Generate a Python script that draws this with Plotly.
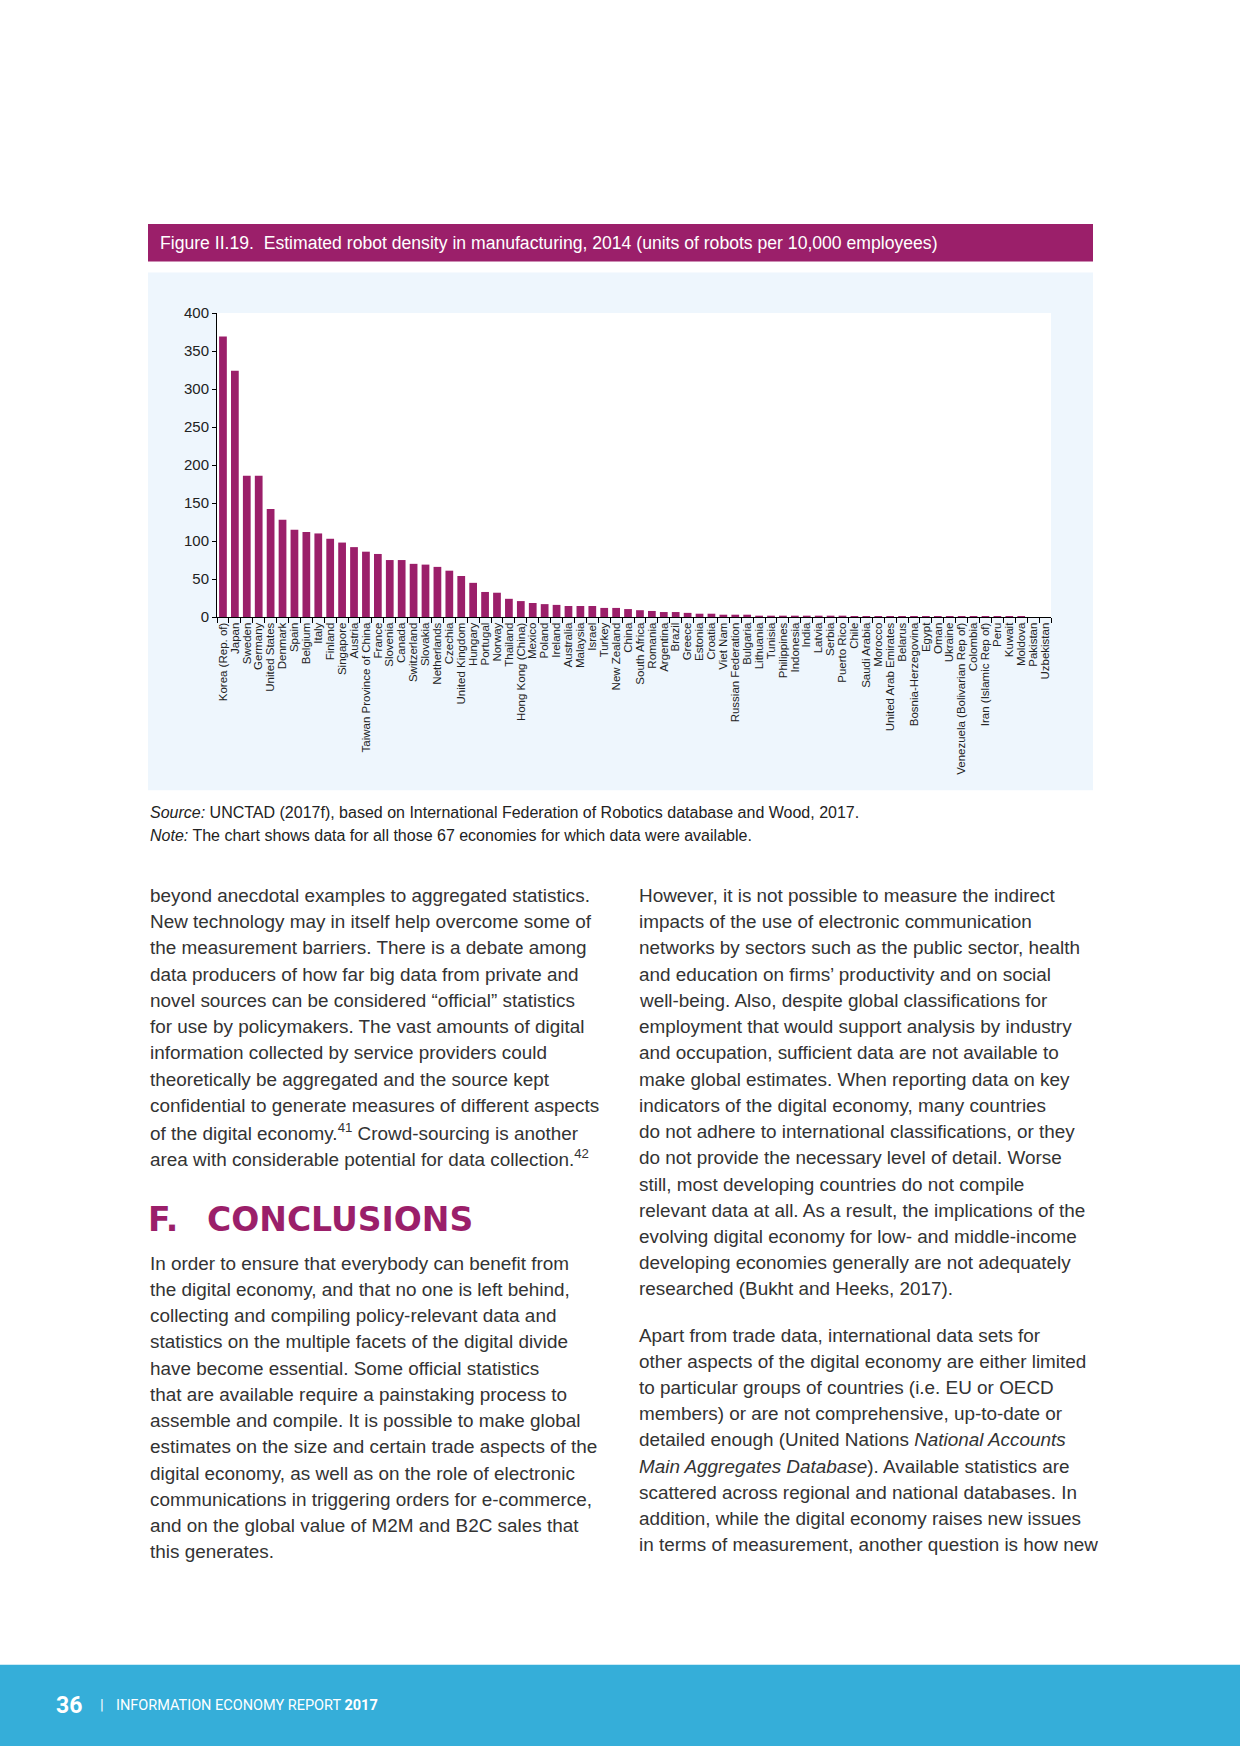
import plotly.graph_objects as go

W, H = 1240, 1754

countries = [
    "Korea (Rep. of)", "Japan", "Sweden", "Germany", "United States", "Denmark", "Spain",
    "Belgium", "Italy", "Finland", "Singapore", "Austria", "Taiwan Province of China",
    "France", "Slovenia", "Canada", "Switzerland", "Slovakia", "Netherlands", "Czechia",
    "United Kingdom", "Hungary", "Portugal", "Norway", "Thailand", "Hong Kong (China)",
    "Mexico", "Poland", "Ireland", "Australia", "Malaysia", "Israel", "Turkey",
    "New Zealand", "China", "South Africa", "Romania", "Argentina", "Brazil", "Greece",
    "Estonia", "Croatia", "Viet Nam", "Russian Federation", "Bulgaria", "Lithuania",
    "Tunisia", "Philippines", "Indonesia", "India", "Latvia", "Serbia", "Puerto Rico",
    "Chile", "Saudi Arabia", "Morocco", "United Arab Emirates", "Belarus",
    "Bosnia-Herzegovina", "Egypt", "Oman", "Ukraine", "Venezuela (Bolivarian Rep of)",
    "Colombia", "Iran (Islamic Rep of)", "Peru", "Kuwait", "Moldova", "Pakistan",
    "Uzbekistan",
]

robot_density = [
    369, 324, 186, 186, 142, 128, 115, 112, 110, 103, 98, 92, 86, 83, 75, 75, 70, 69,
    66, 61, 54, 45, 33, 32, 24, 21, 18.5, 17, 16, 14.5, 14.5, 14.5, 12, 12, 10.5, 9,
    8, 6.6, 6.6, 5.5, 4.4, 4.4, 3.1, 3.1, 3.1, 1.8, 1.8, 1.8, 1.8, 1.8, 1.8, 1.8, 1.8,
    0.7, 0.7, 0.7, 0.7, 0.7, 0.7, 0.7, 0.7, 0.7, 0.7, 0.7, 0.7, 0.7, 0.7, 0.7, 0, 0,
]

y_ticks = [0, 50, 100, 150, 200, 250, 300, 350, 400]

title_text = ("Figure II.19.  Estimated robot density in manufacturing, 2014 "
              "(units of robots per 10,000 employees)")
source_text = "<i>Source:</i> UNCTAD (2017f), based on International Federation of Robotics database and Wood, 2017."
note_text = "<i>Note:</i> The chart shows data for all those 67 economies for which data were available."

left_para1 = [
    "beyond anecdotal examples to aggregated statistics.",
    "New technology may in itself help overcome some of",
    "the measurement barriers. There is a debate among",
    "data producers of how far big data from private and",
    "novel sources can be considered “official” statistics",
    "for use by policymakers. The vast amounts of digital",
    "information collected by service providers could",
    "theoretically be aggregated and the source kept",
    "confidential to generate measures of different aspects",
    "of the digital economy.<sup>41</sup> Crowd-sourcing is another",
    "area with considerable potential for data collection.<sup>42</sup>",
]
left_para2 = [
    "In order to ensure that everybody can benefit from",
    "the digital economy, and that no one is left behind,",
    "collecting and compiling policy-relevant data and",
    "statistics on the multiple facets of the digital divide",
    "have become essential. Some official statistics",
    "that are available require a painstaking process to",
    "assemble and compile. It is possible to make global",
    "estimates on the size and certain trade aspects of the",
    "digital economy, as well as on the role of electronic",
    "communications in triggering orders for e-commerce,",
    "and on the global value of M2M and B2C sales that",
    "this generates.",
]
right_para1 = [
    "However, it is not possible to measure the indirect",
    "impacts of the use of electronic communication",
    "networks by sectors such as the public sector, health",
    "and education on firms’ productivity and on social",
    "well-being. Also, despite global classifications for",
    "employment that would support analysis by industry",
    "and occupation, sufficient data are not available to",
    "make global estimates. When reporting data on key",
    "indicators of the digital economy, many countries",
    "do not adhere to international classifications, or they",
    "do not provide the necessary level of detail. Worse",
    "still, most developing countries do not compile",
    "relevant data at all. As a result, the implications of the",
    "evolving digital economy for low- and middle-income",
    "developing economies generally are not adequately",
    "researched (Bukht and Heeks, 2017).",
]
right_para2 = [
    "Apart from trade data, international data sets for",
    "other aspects of the digital economy are either limited",
    "to particular groups of countries (i.e. EU or OECD",
    "members) or are not comprehensive, up-to-date or",
    "detailed enough (United Nations <i>National Accounts</i>",
    "<i>Main Aggregates Database</i>). Available statistics are",
    "scattered across regional and national databases. In",
    "addition, while the digital economy raises new issues",
    "in terms of measurement, another question is how new",
]

MAGENTA = "#9B1F6A"
PANEL = "#EEF6FD"
BODY = "Liberation Sans, Arial, Helvetica, sans-serif"


def px(x):
    return x / W


def py(y):
    return 1 - y / H


fig = go.Figure(go.Bar(
    x=countries, y=robot_density, marker_color=MAGENTA, marker_line_width=0,
    hoverinfo="x+y",
))

shapes = [
    dict(type="rect", xref="paper", yref="paper", x0=px(148), x1=px(1093),
         y0=py(255), y1=py(217), fillcolor=MAGENTA, line_width=0, layer="below"),
    dict(type="rect", xref="paper", yref="paper", x0=px(148), x1=px(1093),
         y0=py(789), y1=py(266), fillcolor=PANEL, line_width=0, layer="below"),
    dict(type="rect", xref="paper", yref="paper", x0=px(217), x1=px(1051),
         y0=py(614), y1=py(307), fillcolor="white", line_width=0, layer="below"),
    dict(type="rect", xref="paper", yref="paper", x0=0, x1=1,
         y0=0, y1=py(1672), fillcolor="#35AED9", line_width=0, layer="below"),
]

annotations = [
    dict(text=title_text, x=px(158), y=py(236), xref="paper", yref="paper",
         xanchor="left", yanchor="middle", showarrow=False,
         font=dict(family=BODY, size=17.6, color="white")),
    dict(text=source_text, x=px(148), y=py(811), xref="paper", yref="paper",
         xanchor="left", yanchor="middle", showarrow=False,
         font=dict(family=BODY, size=16, color="#222")),
    dict(text=note_text, x=px(148), y=py(835), xref="paper", yref="paper",
         xanchor="left", yanchor="middle", showarrow=False,
         font=dict(family=BODY, size=16, color="#222")),
    dict(text="<b>F.</b>", x=px(146), y=py(1222), xref="paper", yref="paper",
         xanchor="left", yanchor="middle", showarrow=False,
         font=dict(family="DejaVu Sans, sans-serif", size=33, color=MAGENTA)),
    dict(text="<b>CONCLUSIONS</b>", x=px(205), y=py(1222), xref="paper", yref="paper",
         xanchor="left", yanchor="middle", showarrow=False,
         font=dict(family="DejaVu Sans, sans-serif", size=33, color=MAGENTA)),
    dict(text="<b>36</b>", x=px(54), y=py(1713), xref="paper", yref="paper",
         xanchor="left", yanchor="middle", showarrow=False,
         font=dict(family="Roboto, sans-serif", size=23, color="white")),
    dict(text="|", x=px(98), y=py(1713), xref="paper", yref="paper",
         xanchor="left", yanchor="middle", showarrow=False,
         font=dict(family="Roboto, sans-serif", size=15, color="white")),
    dict(text="INFORMATION ECONOMY REPORT <b>2017</b>", x=px(114), y=py(1713),
         xref="paper", yref="paper", xanchor="left", yanchor="middle", showarrow=False,
         font=dict(family="Roboto, sans-serif", size=14.5, color="white")),
]

LINE = 26.5
for lines, x0, y0 in [(left_para1, 148, 895), (left_para2, 148, 1266.5),
                      (right_para1, 637, 895), (right_para2, 637, 1339)]:
    for i, t in enumerate(lines):
        annotations.append(dict(
            text=t, x=px(x0), y=py(y0 + i * LINE), xref="paper", yref="paper",
            xanchor="left", yanchor="middle", showarrow=False,
            font=dict(family=BODY, size=18.9, color="#333")))

fig.update_layout(
    width=W, height=H, margin=dict(l=0, r=0, t=0, b=0),
    paper_bgcolor="white", plot_bgcolor="rgba(0,0,0,0)",
    showlegend=False, bargap=0.35,
    shapes=shapes, annotations=annotations,
    xaxis=dict(
        domain=[px(217), px(1051)], type="category", range=[-0.5, len(countries) - 0.5],
        tickmode="linear", dtick=1, tick0=0,
        tickangle=-90, tickfont=dict(family=BODY, size=11.5, color="#222"),
        showline=True, linecolor="black", linewidth=1, ticks="outside",
        tickson="boundaries", ticklen=5, tickcolor="black", showgrid=False,
        fixedrange=True,
    ),
    yaxis=dict(
        domain=[py(614), py(307)], range=[0, 400], tickvals=y_ticks,
        tickfont=dict(family=BODY, size=15, color="#222"),
        showline=True, linecolor="black", linewidth=1, ticks="outside",
        ticklen=4, tickcolor="black", showgrid=False, zeroline=False,
        fixedrange=True,
    ),
)

fig.write_html("out.html", config={"displayModeBar": False},
               post_script="document.body.style.margin='0';document.body.style.padding='0';")
